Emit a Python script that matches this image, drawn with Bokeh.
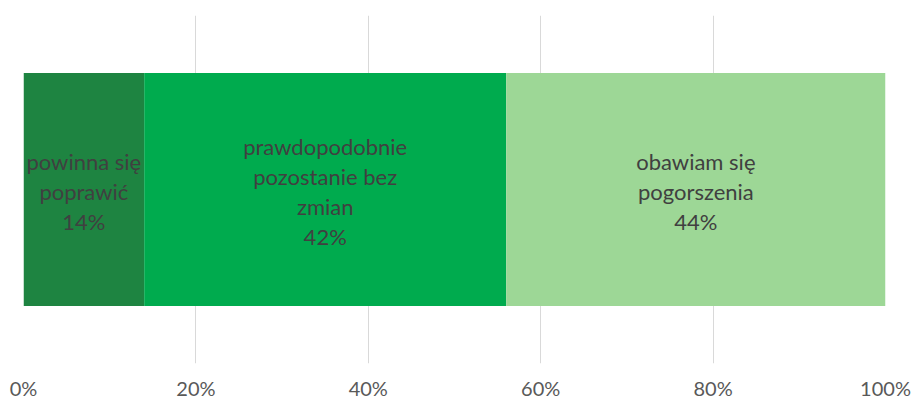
from bokeh.plotting import figure
from bokeh.models import Range1d, NumeralTickFormatter, FixedTicker, ColumnDataSource
from bokeh.core.properties import value
from bokeh.embed import file_html
from bokeh.resources import INLINE

categories = ["powinna się\npoprawić", "prawdopodobnie\npozostanie bez\nzmian", "obawiam się\npogorszenia"]
values = [14, 42, 44]
colors = ["#1E8441", "#00AB4E", "#9DD796"]
ticks = [0, 0.2, 0.4, 0.6, 0.8, 1.0]

lefts, rights, mids, labels = [], [], [], []
acc = 0.0
for c, v in zip(categories, values):
    lefts.append(acc / 100)
    rights.append((acc + v) / 100)
    mids.append((acc + v / 2) / 100)
    labels.append(f"{c}\n{v}%")
    acc += v

src = ColumnDataSource(dict(y=[0] * len(values), left=lefts, right=rights, mid=mids,
                            label=labels, color=colors))

p = figure(width=915, height=403, output_backend="svg", toolbar_location=None,
           x_range=Range1d(0, 1), y_range=Range1d(-0.5, 0.5),
           min_border_left=23, min_border_right=30, min_border_top=15, min_border_bottom=40)
p.outline_line_color = None
p.background_fill_color = "white"
p.border_fill_color = "white"

p.hbar(y="y", left="left", right="right", height=0.67, fill_color="color",
       line_color=None, source=src)
p.text(x="mid", y="y", text="label", source=src, text_align="center",
       text_baseline="middle", text_font=value("Lato"), text_font_size="22px",
       text_color="#404040", text_line_height=1.1, y_offset=2)

p.yaxis.visible = False
p.ygrid.grid_line_color = None
p.xgrid.ticker = FixedTicker(ticks=ticks)
p.xgrid.grid_line_color = "#D9D9D9"
p.xgrid.grid_line_width = 1
p.xgrid.level = "underlay"

xa = p.xaxis[0]
xa.ticker = FixedTicker(ticks=ticks)
xa.formatter = NumeralTickFormatter(format="0%")
xa.axis_line_color = None
xa.major_tick_line_color = None
xa.minor_tick_line_color = None
xa.major_tick_out = 0
xa.major_tick_in = 0
xa.minor_tick_out = 0
xa.minor_tick_in = 0
xa.major_label_text_font = "Lato"
xa.major_label_text_font_size = "20px"
xa.major_label_text_color = "#595959"
xa.major_label_text_baseline = "alphabetic"
xa.major_label_standoff = 12

open("out.html", "w").write(file_html(p, INLINE))
